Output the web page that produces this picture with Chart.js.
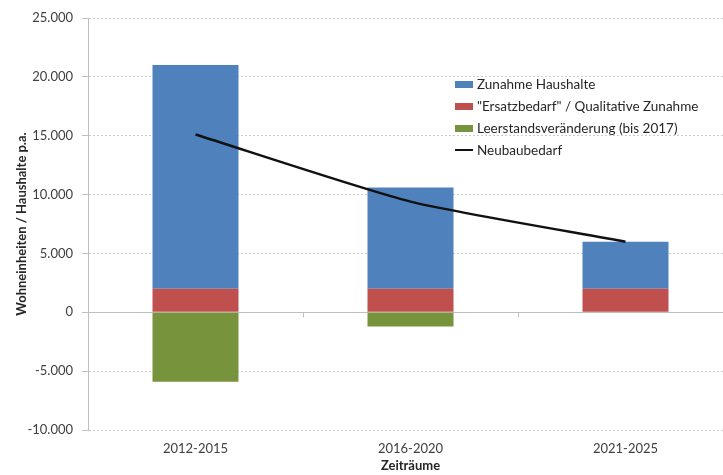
<!DOCTYPE html>
<html>
<head>
<meta charset="utf-8">
<script src="https://cdn.jsdelivr.net/npm/chart.js@4.4.1/dist/chart.umd.min.js"></script>
<style>
  html, body { margin: 0; padding: 0; background: #fff; overflow: hidden; }
  #wrap { position: relative; width: 723px; height: 475px; overflow: hidden; }
  #chart-box { position: absolute; left: 0; top: 0; width: 742px; height: 475px; }
  #legend { position: absolute; left: 455px; top: 73px; font: 13.5px Lato, sans-serif; color: #262626; }
  #legend .item { height: 22px; display: flex; align-items: center; }
  #legend .swatch { width: 18px; margin-right: 4px; }
</style>
</head>
<body>
<div id="wrap">
  <div id="chart-box"><canvas id="need-chart" width="742" height="475"></canvas></div>
  <div id="legend"></div>
</div>
<script>
const periods = ['2012-2015', '2016-2020', '2021-2025'];
const replacement = [2000, 2000, 2000];
const householdGrowth = [19000, 8600, 4000];
const vacancyChange = [-5900, -1200, 0];
const newBuildNeed = [15100, 9400, 6000];
const yTicks = [25000, 20000, 15000, 10000, 5000, 0, -5000, -10000];

const fmt = (v) => v.toLocaleString('de-DE');

// red sits on zero, so it goes first in the stack
const datasets = [
  { type: 'line', label: 'Neubaubedarf', data: newBuildNeed, borderColor: '#111111',
    backgroundColor: '#111111', borderWidth: 2.5, pointRadius: 0, tension: 0.2, order: 0 },
  { label: '"Ersatzbedarf" / Qualitative Zunahme', data: replacement, backgroundColor: '#C0504D', stack: 's', order: 1 },
  { label: 'Zunahme Haushalte', data: householdGrowth, backgroundColor: '#4F81BD', stack: 's', order: 1 },
  { label: 'Leerstandsveränderung (bis 2017)', data: vacancyChange, backgroundColor: '#77933C', stack: 's', order: 1 },
];

const font = { family: 'Lato, sans-serif', size: 13 };

// small Excel-style ticks on the zero line between categories
const zeroTicks = {
  id: 'zeroTicks',
  afterDatasetsDraw(chart) {
    const { ctx, scales: { x, y } } = chart;
    const y0 = y.getPixelForValue(0);
    ctx.save();
    ctx.strokeStyle = '#bfbfbf';
    ctx.lineWidth = 1;
    for (let i = 1; i < periods.length; i++) {
      const px = (x.getPixelForValue(i - 1) + x.getPixelForValue(i)) / 2;
      ctx.beginPath();
      ctx.moveTo(Math.round(px) + 0.5, y0);
      ctx.lineTo(Math.round(px) + 0.5, y0 + 5);
      ctx.stroke();
    }
    ctx.restore();
  }
};

const isZero = (c) => c.tick && c.tick.value === 0;

const chart = new Chart(document.getElementById('need-chart'), {
  type: 'bar',
  data: { labels: periods, datasets: datasets },
  plugins: [zeroTicks],
  options: {
    responsive: false,
    animation: false,
    layout: { padding: { top: 18, right: 9, left: 0, bottom: 0 } },
    datasets: { bar: { barPercentage: 0.4, categoryPercentage: 1 } },
    plugins: { legend: { display: false }, tooltip: { enabled: false } },
    scales: {
      x: {
        stacked: true,
        grid: { display: false },
        border: { display: false },
        ticks: { color: '#404040', font: font, padding: 3 },
        title: { display: true, text: 'Zeiträume', color: '#262626',
          font: { family: 'Lato, sans-serif', size: 13, weight: 'bold' }, padding: { top: 5, bottom: 1 } },
        afterFit(scale) { scale.height = 45; }
      },
      y: {
        stacked: true,
        min: -10000,
        max: 25000,
        afterBuildTicks(scale) { scale.ticks = yTicks.map((v) => ({ value: v })); },
        ticks: { color: '#404040', font: font, padding: 9, callback: (v) => fmt(v) },
        grid: {
          color: (c) => isZero(c) ? '#bfbfbf' : '#cccccc',
          lineWidth: 1,
          tickLength: 6,
          tickColor: '#bfbfbf',
          tickBorderDash: [],
        },
        // dotted grid lines, solid zero line and axis
        border: { display: true, color: '#bfbfbf',
          dash: (c) => (!c.tick || isZero(c)) ? [] : [2, 2] },
        title: { display: true, text: 'Wohneinheiten / Haushalte p.a.', color: '#262626',
          font: { family: 'Lato, sans-serif', size: 13, weight: 'bold' }, padding: { top: 14, bottom: 0 } },
        afterFit(scale) { scale.width = 88; }
      }
    }
  }
});

// legend built from the datasets, listed in the source order
const legendOrder = ['Zunahme Haushalte', '"Ersatzbedarf" / Qualitative Zunahme',
  'Leerstandsveränderung (bis 2017)', 'Neubaubedarf'];
const legend = document.getElementById('legend');
legendOrder.forEach((name) => {
  const ds = datasets.find((d) => d.label === name);
  const item = document.createElement('div');
  item.className = 'item';
  const sw = document.createElement('span');
  sw.className = 'swatch';
  sw.style.height = ds.type === 'line' ? '2px' : '7px';
  sw.style.background = ds.type === 'line' ? ds.borderColor : ds.backgroundColor;
  item.appendChild(sw);
  item.appendChild(document.createTextNode(name));
  legend.appendChild(item);
});
</script>
</body>
</html>
